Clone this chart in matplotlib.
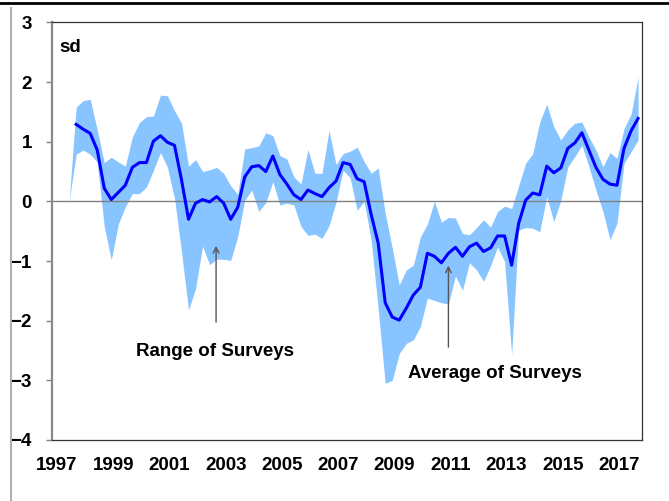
import numpy as np
import matplotlib
matplotlib.use("Agg")
import matplotlib.pyplot as plt
from matplotlib.lines import Line2D

plt.rcParams['font.family'] = ['Liberation Sans', 'DejaVu Sans']

# quarterly observations, first quarter is a blank (plotted as zero in the band)
quarters = 1997.43 + 0.25 * np.arange(82)

average = [np.nan,
           1.29, 1.21, 1.14, 0.86, 0.22, 0.03, 0.15, 0.27, 0.57, 0.65,
           0.65, 1.01, 1.10, 0.99, 0.94, 0.36, -0.30, -0.03, 0.03, -0.01,
           0.08, -0.03, -0.30, -0.10, 0.41, 0.58, 0.60, 0.50, 0.76, 0.45,
           0.29, 0.11, 0.03, 0.19, 0.13, 0.08, 0.23, 0.34, 0.65, 0.62,
           0.38, 0.33, -0.22, -0.70, -1.70, -1.94, -1.99, -1.79, -1.57, -1.44,
           -0.87, -0.92, -1.03, -0.87, -0.77, -0.92, -0.76, -0.70, -0.84, -0.78,
           -0.58, -0.58, -1.07, -0.37, 0.02, 0.14, 0.11, 0.59, 0.48, 0.56,
           0.89, 0.98, 1.15, 0.86, 0.57, 0.37, 0.29, 0.27, 0.89, 1.18,
           1.39]

upper = [0.0,
         1.58, 1.69, 1.71, 1.20, 0.65, 0.74, 0.66, 0.59, 1.08, 1.32,
         1.42, 1.43, 1.78, 1.77, 1.52, 1.31, 0.59, 0.70, 0.50, 0.53,
         0.57, 0.47, 0.26, 0.12, 0.88, 0.90, 0.93, 1.15, 1.10, 0.77,
         0.71, 0.41, 0.29, 0.87, 0.47, 0.47, 1.19, 0.62, 0.80, 0.84,
         0.91, 0.67, 0.47, 0.56, -0.20, -0.78, -1.40, -1.15, -1.07, -0.60,
         -0.38, 0.00, -0.35, -0.27, -0.28, -0.54, -0.56, -0.44, -0.31, -0.43,
         -0.17, -0.08, -0.12, 0.26, 0.64, 0.80, 1.33, 1.63, 1.25, 1.03,
         1.20, 1.31, 1.33, 1.08, 0.86, 0.58, 0.82, 0.72, 1.22, 1.46,
         2.08]

lower = [0.0,
         0.79, 0.86, 0.79, 0.66, -0.42, -0.98, -0.38, -0.09, 0.13, 0.13,
         0.24, 0.52, 0.82, 0.57, 0.05, -0.85, -1.82, -1.46, -0.75, -1.06,
         -0.97, -0.97, -0.99, -0.59, 0.02, 0.19, -0.17, -0.02, 0.33, -0.06,
         -0.03, -0.06, -0.42, -0.57, -0.55, -0.62, -0.41, -0.01, 0.52, 0.40,
         -0.15, 0.00, -0.65, -1.80, -3.05, -3.00, -2.55, -2.38, -2.32, -2.10,
         -1.62, -1.66, -1.70, -1.72, -1.25, -1.49, -1.03, -1.15, -1.34, -1.08,
         -0.76, -1.01, -2.57, -0.48, -0.44, -0.45, -0.51, 0.08, -0.34, 0.02,
         0.58, 0.75, 0.94, 0.58, 0.19, -0.17, -0.64, -0.37, 0.64, 0.83,
         1.03]

year_ticks = list(range(1997, 2018, 2))
y_ticks = list(range(-4, 4))

fig = plt.figure(figsize=(6.69, 5.01), dpi=100)
ax = fig.add_axes([52 / 669, 1 - 440 / 501, 590 / 669, 417.6 / 501])

ax.fill_between(quarters, lower, upper, color='#88c4ff', linewidth=0)
ax.axhline(0, color='#808080', lw=1.0)
ax.plot(quarters, average, color='#0000ff', lw=2.2)

ax.set_xlim(1996.82, 2017.82)
ax.set_ylim(-4, 3)
ax.set_xticks(year_ticks)
ax.set_xticklabels([str(y) for y in year_ticks])
ax.set_yticks(y_ticks)
ax.tick_params(axis='x', length=0, pad=12, labelsize=13.5)
ax.tick_params(axis='y', length=4.5, width=1, color='#808080', pad=10, labelsize=13.5)
for lab in ax.get_xticklabels() + ax.get_yticklabels():
    lab.set_fontweight('bold')

for side in ['top', 'right', 'bottom']:
    ax.spines[side].set_color('#333333')
    ax.spines[side].set_linewidth(0.9)
ax.spines['left'].set_color('#8a8a8a')
ax.spines['left'].set_linewidth(1.6)

ax.text(0.012, 0.94, 'sd', transform=ax.transAxes, fontsize=13.5,
        fontweight='bold', va='center', ha='left')

arrow = dict(arrowstyle='->', color='#555555', lw=1.0)
ax.annotate('', xy=(2002.66, -0.70), xytext=(2002.66, -2.07), arrowprops=arrow)
ax.text(2002.62, -2.52, 'Range of Surveys', fontsize=13.5, fontweight='bold',
        ha='center', va='center')
ax.annotate('', xy=(2010.93, -1.03), xytext=(2010.93, -2.49), arrowprops=arrow)
ax.text(2012.58, -2.88, 'Average of Surveys', fontsize=13.5, fontweight='bold',
        ha='center', va='center')

# frame lines of the original slide
fig.add_artist(Line2D([0, 1], [1 - 3 / 501, 1 - 3 / 501], color='black', lw=2))
fig.add_artist(Line2D([11 / 669, 11 / 669], [0, 1 - 8 / 501], color='#b0b0b0', lw=1.5))

fig.savefig('out.png', dpi=100)
